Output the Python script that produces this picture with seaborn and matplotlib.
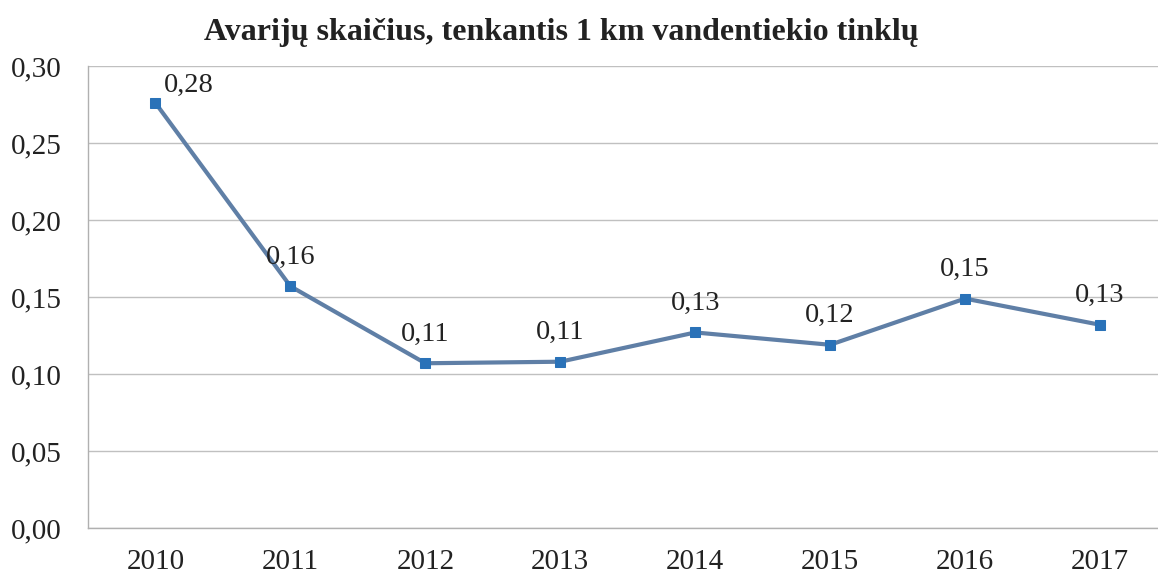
import matplotlib
matplotlib.use('Agg')
import matplotlib.pyplot as plt
import seaborn as sns
import pandas as pd

# duomenys nuskaityti nuo paveikslo
years = ['2010', '2011', '2012', '2013', '2014', '2015', '2016', '2017']
avarijos = [0.276, 0.157, 0.107, 0.108, 0.127, 0.119, 0.149, 0.132]
y_ticks = [0.00, 0.05, 0.10, 0.15, 0.20, 0.25, 0.30]

df = pd.DataFrame({'metai': years, 'avarijos': avarijos})

sns.set_style('white')
plt.rcParams['font.family'] = ['Liberation Serif', 'DejaVu Serif']

fig = plt.figure(figsize=(11.58, 5.76), dpi=100)
ax = fig.add_axes([0.076, 0.0833, 0.924, 0.802])

sns.lineplot(data=df, x='metai', y='avarijos', ax=ax, color='#5f7fa6', linewidth=3,
             marker='s', markersize=7, markerfacecolor='#2a72b8', markeredgecolor='#2a72b8')

ax.set_ylim(0, 0.30)
ax.set_xlim(-0.5, 7.43)
ax.set_yticks(y_ticks)
ax.set_yticklabels([f'{t:.2f}'.replace('.', ',') for t in y_ticks])
ax.yaxis.grid(True, color='#c0c0c0', linewidth=1)
ax.set_axisbelow(True)
ax.tick_params(axis='y', length=0, pad=19, labelsize=21, labelcolor='#222222')
ax.tick_params(axis='x', length=0, pad=15, labelsize=21, labelcolor='#222222')
for s in ['top', 'right']:
    ax.spines[s].set_visible(False)
for s in ['left', 'bottom']:
    ax.spines[s].set_color('#b0b0b0')
    ax.spines[s].set_linewidth(1)
ax.set_xlabel(None)
ax.set_ylabel(None)

# reikšmių etiketės
for i, v in enumerate(avarijos):
    dx, dy = (24, 4) if i == 0 else (0, 12)
    ax.annotate(f'{v:.2f}'.replace('.', ','), (i, v), xytext=(dx, dy), textcoords='offset points',
                ha='center', va='bottom', fontsize=20.5, color='#222222')

fig.text(0.485, 0.944, 'Avarijų skaičius, tenkantis 1 km vandentiekio tinklų',
         ha='center', va='center', fontsize=23, fontweight='bold', color='#222222')

plt.savefig('out.png', dpi=100)
